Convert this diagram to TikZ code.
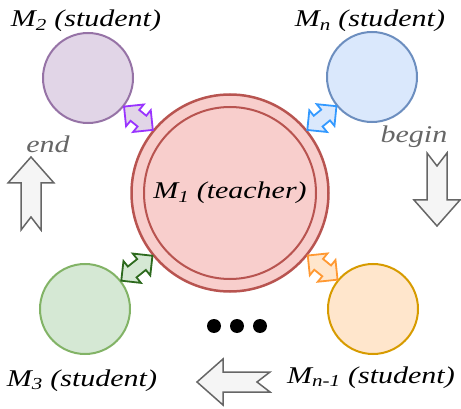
\documentclass[tikz,border=0pt]{standalone}
\usepackage{fontspec}
\setmainfont{Liberation Serif}
\newfontfamily\labelfont[FakeStretch=1.25]{Liberation Serif}
\usepackage{xcolor}
\usetikzlibrary{calc,shapes.arrows}

\definecolor{teacherfill}{HTML}{F8CECC}
\definecolor{teacherline}{HTML}{B85450}
\definecolor{purplefill}{HTML}{E1D5E7}
\definecolor{purpleline}{HTML}{9673A6}
\definecolor{purplelink}{HTML}{9933FF}
\definecolor{bluefill}{HTML}{DAE8FC}
\definecolor{blueline}{HTML}{6C8EBF}
\definecolor{bluelink}{HTML}{3399FF}
\definecolor{greenfill}{HTML}{D5E8D4}
\definecolor{greenline}{HTML}{82B366}
\definecolor{greenlink}{HTML}{2D6A1E}
\definecolor{orangefill}{HTML}{FFE6CC}
\definecolor{orangeline}{HTML}{D79B00}
\definecolor{orangelink}{HTML}{FF9933}
\definecolor{flowfill}{HTML}{F5F5F5}
\definecolor{flowline}{HTML}{666666}

% double block arrow between the borders of two circles
\newcommand\linkarrow[4]{%
  \path let \p1=($(#3)-(#2)$), \n1={atan2(\y1,\x1)}, \n2={\n1+180},
    \p2=(#2.\n1), \p3=(#3.\n2), \n3={veclen(\x3-\x2,\y3-\y2)} in
    node[link, #1, rotate=\n1, minimum height=\n3] (#4)
      at ($(\p2)!0.5!(\p3)$) {};}

\begin{document}
\begin{tikzpicture}[
  x=1pt, y=-1pt,
  lbl/.style={font=\labelfont\itshape\fontsize{24}{28}\selectfont,
    inner sep=0pt, anchor=base},
  teacher/.style={circle, draw=teacherline, fill=teacherfill,
    line width=2.5pt, minimum size=197pt, inner sep=0pt,
    font=\labelfont\itshape\fontsize{24}{28}\selectfont},
  student/.style={circle, line width=2pt, minimum size=90pt, inner sep=0pt},
  link/.style={double arrow, line width=1.8pt, inner xsep=0pt,
    inner ysep=6pt, minimum width=28pt, double arrow head extend=7pt},
  dot/.style={circle, fill=black, minimum size=14pt, inner sep=0pt},
  flowarrow/.pic={
    \draw[fill=flowfill, draw=flowline, line width=1.5pt, line join=miter]
      (0,-10) -- (47,-10) -- (47,-23) -- (73,0) -- (47,23) -- (47,10)
      -- (0,10) -- (13,0) -- cycle;}
]
  \useasboundingbox (0,0) rectangle (461,409);

  % Teacher
  \node[teacher] (m1) at (230,193) {M\textsubscript{1} (teacher)};
  \draw[teacherline, line width=2pt] (m1.center) circle[radius=86pt];

  % Students
  \node[student, draw=purpleline, fill=purplefill] (m2) at (88,78) {};
  \node[student, draw=blueline, fill=bluefill] (mn) at (372,77) {};
  \node[student, draw=greenline, fill=greenfill] (m3) at (85,309) {};
  \node[student, draw=orangeline, fill=orangefill] (mn1) at (373,309) {};

  \node[lbl] (t2) at (86,27) {M\textsubscript{2} (student)};
  \node[lbl] (tn) at (370,27) {M\textsubscript{n} (student)};
  \node[lbl] (t3) at (82,386) {M\textsubscript{3} (student)};
  \node[lbl] (tn1) at (371,383) {M\textsubscript{n-1} (student)};

  % Links teacher <-> students
  \linkarrow{draw=purplelink, fill=purplefill}{m1}{m2}{l2}
  \linkarrow{draw=bluelink, fill=bluefill}{m1}{mn}{ln}
  \linkarrow{draw=greenlink, fill=greenfill}{m1}{m3}{l3}
  \linkarrow{draw=orangelink, fill=orangefill}{m1}{mn1}{ln1}

  % Remaining students
  \node[dot] (d1) at (214,326) {};
  \node[dot] (d2) at (237,326) {};
  \node[dot] (d3) at (260,326) {};

  % Order of the round
  \node[lbl, text=flowline] (begin) at (414,143) {begin};
  \pic[rotate=-90] at (437,153) {flowarrow};
  \pic[rotate=180] at (270,382) {flowarrow};
  \pic[rotate=90] at (31,230) {flowarrow};
  \node[lbl, text=flowline] (end) at (48,153) {end};
\end{tikzpicture}
\end{document}
